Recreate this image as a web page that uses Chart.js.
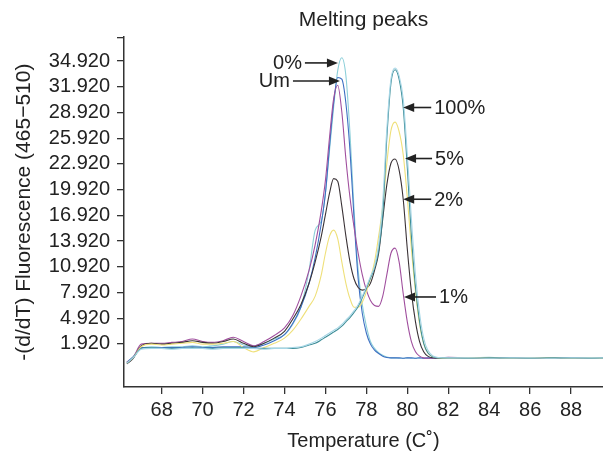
<!DOCTYPE html>
<html>
<head>
<meta charset="utf-8">
<script src="https://cdn.jsdelivr.net/npm/chart.js"></script>
<style>
  html, body { margin: 0; padding: 0; background: #fff; }
  #wrap { width: 603px; height: 455px; position: relative; }
</style>
</head>
<body>
<div id="wrap"><canvas id="plot"></canvas></div>
<script>
// temperatures shared by every trace (C)
const temps = [66.3, 66.6, 67.0, 67.5, 68.0, 68.5, 69.0, 69.5, 70.0, 70.5, 71.0, 71.5, 72.0, 72.5, 73.0, 73.5,
  74.0, 74.4, 74.8, 75.2, 75.5, 75.8, 76.0,
  76.2, 76.4, 76.6, 76.8, 77.0, 77.2, 77.4, 77.6, 77.8, 78.0, 78.2, 78.4, 78.6, 78.8, 79.0, 79.2, 79.4, 79.6, 79.8,
  80.0, 80.2, 80.4, 80.6, 80.8, 81.0,
  81.5, 82.0, 83.0, 84.0, 85.0, 86.0, 87.0, 88.0, 89.0, 89.6];

// -(d/dT) fluorescence
const cyan0 = [-0.3, 0.3, 1.4, 1.6, 1.5, 1.6, 1.6, 1.7, 1.6, 1.7, 1.9, 2.2, 1.8, 1.7, 2.0, 2.5,
  3.0, 4.2, 6.2, 10.5, 15.2, 16.3, 19.5,
  24.5, 29.5, 33.8, 35.3, 33.2, 26.5, 17.5, 10.5, 6.5, 4.0, 2.2, 1.4, 0.9, 0.6, 0.4, 0.3, 0.3, 0.25, 0.25,
  0.3, 0.25, 0.25, 0.3, 0.25, 0.25,
  0.3, 0.25, 0.3, 0.35, 0.25, 0.3, 0.25, 0.3, 0.25, 0.25];
const blueUm = [-0.2, 0.4, 1.5, 1.5, 1.5, 1.5, 1.5, 1.6, 1.5, 1.5, 1.6, 1.6, 1.6, 1.5, 1.8, 2.3,
  3.0, 4.3, 6.2, 9.0, 12.0, 16.0, 19.5,
  25, 30, 33.0, 32.8, 30, 24.5, 16.5, 9.5, 5.5, 3.2, 1.9, 1.2, 0.8, 0.5, 0.35, 0.3, 0.3, 0.3, 0.25,
  0.3, 0.3, 0.25, 0.3, 0.25, 0.3,
  0.25, 0.3, 0.3, 0.25, 0.3, 0.3, 0.25, 0.3, 0.3, 0.25];
const purple1 = [-0.2, 0.3, 1.9, 2.0, 2.0, 2.1, 2.2, 2.5, 2.2, 2.1, 2.3, 2.7, 2.2, 1.7, 2.2, 2.9,
  3.8, 5.2, 7.5, 10.5, 13.5, 17.5, 21.0,
  26, 30.5, 32.1, 29, 23.5, 19, 15.5, 12.5, 10, 8.2, 7.0, 6.4, 6.3, 7.5, 10, 12.5, 13.1, 11.5, 7.8,
  4.5, 2.2, 1.0, 0.5, 0.3, 0.25,
  0.3, 0.35, 0.3, 0.25, 0.3, 0.3, 0.25, 0.3, 0.25, 0.3];
const black2 = [-0.4, 0.2, 1.7, 2.0, 1.9, 2.0, 2.1, 2.3, 2.1, 2.0, 2.2, 2.5, 2.0, 1.6, 2.0, 2.6,
  3.4, 4.8, 6.5, 9.0, 11.5, 14.5, 17.0,
  19.5, 21.2, 20.9, 18, 14.5, 11.5, 9.5, 8.5, 8.2, 8.4, 9.0, 10.5, 12.5, 16.5, 20.5, 23, 23.5, 22.2, 18.8,
  13, 8, 4.5, 2.2, 1.0, 0.5,
  0.25, 0.3, 0.25, 0.3, 0.3, 0.25, 0.3, 0.25, 0.3, 0.3];
const yellow5 = [-0.3, 0.3, 1.6, 1.9, 1.8, 1.9, 2.0, 2.1, 1.9, 1.9, 2.0, 2.2, 1.5, 1.0, 1.5, 2.0,
  2.6, 3.5, 4.8, 6.3, 7.5, 10.0, 12.5,
  14.5, 15.2, 14.2, 11.5, 9, 7.2, 6.2, 6.2, 6.8, 8.0, 9.6, 11.5, 14.5, 18, 23, 26.8, 27.8, 26.7, 24,
  19, 13, 8, 4.2, 2.0, 0.9,
  0.3, 0.25, 0.3, 0.3, 0.25, 0.3, 0.3, 0.25, 0.3, 0.25];
const teal100 = [-0.3, 0.3, 1.4, 1.5, 1.4, 1.4, 1.4, 1.5, 1.4, 1.4, 1.5, 1.5, 1.5, 1.4, 1.4, 1.4,
  1.4, 1.4, 1.5, 1.8, 2.0, 2.4, 2.7,
  3.0, 3.3, 3.6, 4.0, 4.5, 5.0, 5.6, 6.3, 7.3, 8.4, 9.6, 10.8, 12.8, 17, 26, 32.3, 33.9, 32.8, 29.5,
  22.5, 14.5, 8.5, 4.5, 2.0, 0.9,
  0.3, 0.3, 0.25, 0.3, 0.3, 0.25, 0.3, 0.3, 0.25, 0.3];
const cyan100 = [-0.3, 0.3, 1.3, 1.4, 1.4, 1.3, 1.4, 1.4, 1.4, 1.3, 1.4, 1.4, 1.4, 1.4, 1.3, 1.4,
  1.4, 1.5, 1.6, 1.9, 2.2, 2.6, 2.9,
  3.2, 3.5, 3.8, 4.2, 4.7, 5.2, 5.8, 6.5, 7.5, 8.6, 9.8, 11, 13.5, 18.5, 27, 32.8, 34.1, 33.2, 30.5,
  24, 16.5, 10, 5.5, 2.6, 1.2,
  0.35, 0.3, 0.3, 0.25, 0.3, 0.3, 0.25, 0.3, 0.3, 0.3];

const xTicks = [68, 70, 72, 74, 76, 78, 80, 82, 84, 86, 88];
const yTicks = [1.92, 4.92, 7.92, 10.92, 13.92, 16.92, 19.92, 22.92, 25.92, 28.92, 31.92, 34.92];

// arrow labels: tip sits on a curve (data units), text on one side
const callouts = [
  { text: "0%", temp: 76.61, value: 34.7, side: "left", len: 33 },
  { text: "Um", temp: 76.71, value: 32.6, side: "left", len: 47 },
  { text: "100%", temp: 79.80, value: 29.5, side: "right", len: 28 },
  { text: "5%", temp: 79.89, value: 23.55, side: "right", len: 27 },
  { text: "2%", temp: 79.80, value: 18.8, side: "right", len: 28 },
  { text: "1%", temp: 79.84, value: 7.4, side: "right", len: 32 },
];

const FONT = '"Liberation Sans", Arial, Helvetica, sans-serif';
const INK = "#222";

const series = [
  { label: "100% light", data: cyan100, color: "#a6d6e6" },
  { label: "100%", data: teal100, color: "#3f8e98" },
  { label: "5%", data: yellow5, color: "#efe07a" },
  { label: "2%", data: black2, color: "#3b3337" },
  { label: "1%", data: purple1, color: "#a04f9e" },
  { label: "Um", data: blueUm, color: "#3d6fc2" },
  { label: "0%", data: cyan0, color: "#8ccfd9" },
];

const calloutPlugin = {
  id: "callouts",
  afterDatasetsDraw(chart) {
    const { ctx, scales } = chart;
    ctx.save();
    ctx.strokeStyle = INK;
    ctx.fillStyle = INK;
    ctx.lineWidth = 1.6;
    ctx.font = "20px " + FONT;
    ctx.textBaseline = "middle";
    callouts.forEach(c => {
      const tx = scales.x.getPixelForValue(c.temp);
      const ty = scales.y.getPixelForValue(c.value);
      const dir = c.side === "left" ? -1 : 1;
      const tail = tx + dir * c.len;
      ctx.beginPath();
      ctx.moveTo(tail, ty);
      ctx.lineTo(tx + dir * 8, ty);
      ctx.stroke();
      ctx.beginPath();
      ctx.moveTo(tx, ty);
      ctx.lineTo(tx + dir * 11, ty - 4.5);
      ctx.lineTo(tx + dir * 11, ty + 4.5);
      ctx.closePath();
      ctx.fill();
      ctx.textAlign = c.side === "left" ? "right" : "left";
      ctx.fillText(c.text, tail + dir * 3, ty + 1);
    });
    ctx.restore();
  }
};

new Chart(document.getElementById("plot"), {
  type: "line",
  data: {
    datasets: series.map(s => ({
      label: s.label,
      data: temps.map((t, i) => ({ x: t, y: s.data[i] })),
      borderColor: s.color,
      borderWidth: 1.1,
      pointRadius: 0,
      fill: false,
      cubicInterpolationMode: "monotone",
    }))
  },
  options: {
    responsive: true,
    maintainAspectRatio: false,
    animation: false,
    layout: { padding: 0 },
    plugins: {
      legend: { display: false },
      tooltip: { enabled: false },
      title: {
        display: true,
        text: "Melting peaks",
        fullSize: false,
        color: INK,
        font: { family: FONT, size: 21, weight: "normal" },
        padding: { top: 8, bottom: 4 },
      },
    },
    scales: {
      x: {
        type: "linear",
        min: 66.16,
        max: 89.56,
        afterBuildTicks: s => { s.ticks = xTicks.map(v => ({ value: v })); },
        afterFit: s => { s.height = 68; },
        ticks: {
          color: INK,
          font: { family: FONT, size: 20 },
          padding: 4,
          maxRotation: 0,
          callback: v => String(v),
        },
        grid: { drawOnChartArea: false, drawTicks: true, tickLength: 7, color: "#333", lineWidth: 1.3 },
        border: { display: true, color: "#333", width: 1.5 },
        title: {
          display: true,
          text: "Temperature (C\u02DA)",
          color: INK,
          font: { family: FONT, size: 20 },
          padding: { top: 0, bottom: 2 },
        },
      },
      y: {
        type: "linear",
        min: -3.1,
        max: 37.7,
        afterBuildTicks: s => { s.ticks = yTicks.concat([37.7]).map(v => ({ value: v })); },
        afterFit: s => { s.width = 124; },
        ticks: {
          color: INK,
          font: { family: FONT, size: 20 },
          padding: 7,
          callback: v => (v > 35 ? "" : v.toFixed(3)),
        },
        grid: { drawOnChartArea: false, drawTicks: true, tickLength: 7, color: "#333", lineWidth: 1.3 },
        border: { display: true, color: "#333", width: 1.5 },
        title: {
          display: true,
          text: "-(d/dT) Fluorescence (465\u2212510)",
          color: INK,
          font: { family: FONT, size: 21 },
          padding: { top: 12, bottom: 0 },
        },
      },
    },
  },
  plugins: [calloutPlugin],
});
</script>
</body>
</html>
